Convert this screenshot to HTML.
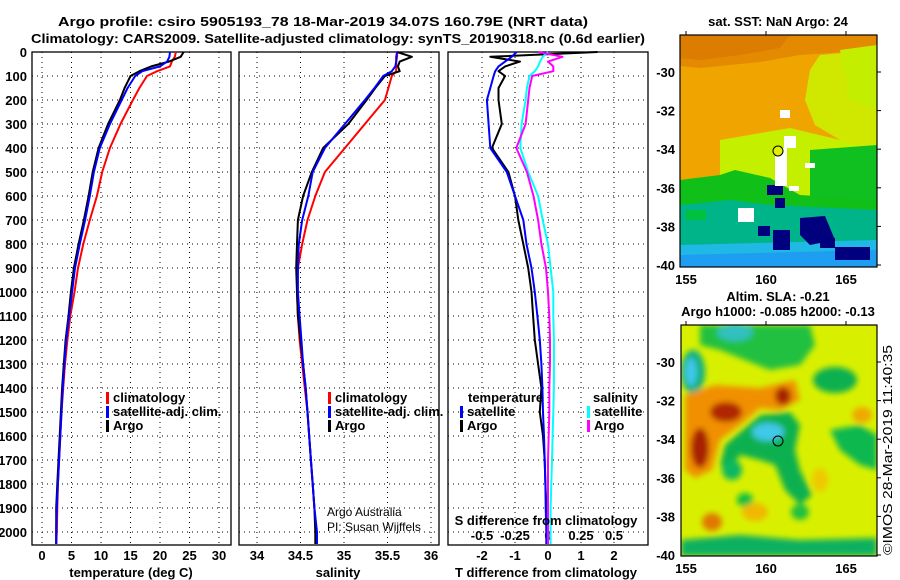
<!DOCTYPE html>
<html><head><meta charset="utf-8">
<style>
html,body{margin:0;padding:0;background:#fff;}
svg{display:block;font-family:"Liberation Sans",Arial,sans-serif;}
.b{font-weight:bold;font-size:13px;}
</style></head>
<body>
<svg id="fig" width="900" height="580" viewBox="0 0 900 580" xmlns="http://www.w3.org/2000/svg">
<defs>
<filter id="blur" x="-30%" y="-30%" width="160%" height="160%"><feGaussianBlur stdDeviation="3"/></filter>
<clipPath id="clipTop"><rect x="680" y="35" width="197" height="232"/></clipPath>
<clipPath id="clipBot"><rect x="681" y="325" width="196" height="231"/></clipPath>
</defs>
<text class="b" x="58" y="26" font-size="14" textLength="530" lengthAdjust="spacingAndGlyphs">Argo profile: csiro 5905193_78 18-Mar-2019 34.07S 160.79E (NRT data)</text>
<text class="b" x="31" y="43" font-size="14" textLength="614" lengthAdjust="spacingAndGlyphs">Climatology: CARS2009. Satellite-adjusted climatology: synTS_20190318.nc (0.6d earlier)</text>

<!-- top map: satellite SST -->
<g clip-path="url(#clipTop)">
<rect x="680" y="35" width="197" height="232" fill="#f0a400"/>
<polygon points="680,35 877,35 877,50 800,55 760,62 700,68 680,66" fill="#e48a00"/>
<polygon points="680,35 790,35 780,48 740,55 700,60 680,58" fill="#dc7c00"/>
<polygon points="820,55 877,50 877,150 840,140 815,125 805,100 810,70" fill="#d0e800"/>
<polygon points="840,50 877,45 877,110 850,100" fill="#c4ee00"/>
<polygon points="720,140 790,128 840,140 877,150 877,200 800,195 760,178 720,175" fill="#c4f000"/>
<polygon points="810,150 877,145 877,205 810,205" fill="#10c020"/>
<polygon points="680,180 720,175 735,170 770,178 800,195 877,200 877,230 680,235" fill="#10c018"/>
<polygon points="680,205 730,200 770,205 877,210 877,245 680,245" fill="#00b48a"/>
<polygon points="680,245 877,240 877,267 680,267" fill="#20b8e4"/>
<polygon points="680,255 877,250 877,267 680,267" fill="#1e9ef0"/>
<rect x="686" y="210" width="20" height="10" fill="#00c040"/>
<rect x="767" y="185" width="16" height="10" fill="#00007e"/>
<rect x="775" y="198" width="10" height="10" fill="#00007e"/>
<rect x="758" y="226" width="12" height="10" fill="#00007e"/>
<rect x="773" y="230" width="17" height="20" fill="#00007e"/>
<polygon points="800,218 825,216 835,240 810,245 800,235" fill="#00007e"/>
<rect x="820" y="238" width="15" height="10" fill="#00007e"/>
<rect x="835" y="247" width="35" height="13" fill="#00007e"/>
<rect x="780" y="110" width="10" height="8" fill="#fff"/>
<rect x="784" y="136" width="12" height="12" fill="#fff"/>
<rect x="775" y="148" width="12" height="38" fill="#fff"/>
<rect x="738" y="208" width="16" height="14" fill="#fff"/>
<rect x="805" y="163" width="10" height="5" fill="#fff"/>
<rect x="789" y="186" width="10" height="5" fill="#fff"/>
</g>
<circle cx="778" cy="151" r="5" fill="#e0f000" stroke="#000" stroke-width="1"/>
<rect x="680" y="35" width="197" height="232" fill="none" stroke="#000" stroke-width="1.2"/>
<text class="b" x="778" y="26" text-anchor="middle">sat. SST: NaN Argo: 24</text>

<!-- bottom map: altimetry SLA -->
<g clip-path="url(#clipBot)">
<rect x="681" y="325" width="196" height="231" fill="#d8f000"/>
<g filter="url(#blur)">
<polygon points="700,325 810,325 815,345 800,365 770,370 745,360 720,350 700,345" fill="#20c040"/>
<ellipse cx="735" cy="332" rx="18" ry="9" fill="#30c0c0"/>
<ellipse cx="693" cy="372" rx="12" ry="22" fill="#10b080"/>
<ellipse cx="691" cy="372" rx="6" ry="14" fill="#40c8e8"/>
<polygon points="685,395 715,385 760,388 795,380 800,400 780,410 760,408 740,425 720,440 712,470 695,478 685,470" fill="#f09000"/>
<ellipse cx="726" cy="412" rx="16" ry="10" fill="#b02800"/>
<ellipse cx="700" cy="448" rx="9" ry="20" fill="#a82000"/>
<ellipse cx="783" cy="396" rx="8" ry="9" fill="#a82000"/>
<polygon points="740,432 760,415 790,412 800,425 795,450 800,470 812,495 800,505 785,490 775,465 760,460 740,455 730,470 720,465 725,445" fill="#10b050"/>
<ellipse cx="768" cy="432" rx="16" ry="9" fill="#40c8e8"/>
<ellipse cx="732" cy="470" rx="10" ry="10" fill="#10b860"/>
<ellipse cx="745" cy="500" rx="8" ry="7" fill="#10c040"/>
<ellipse cx="835" cy="380" rx="22" ry="13" fill="#10b050"/>
<polygon points="830,430 860,425 877,435 877,470 860,465 840,450" fill="#10b850"/>
<ellipse cx="800" cy="512" rx="9" ry="8" fill="#20c040"/>
<polygon points="681,540 740,535 800,540 877,538 877,556 681,556" fill="#10b060"/>
<ellipse cx="712" cy="522" rx="10" ry="9" fill="#e07800"/>
<ellipse cx="755" cy="512" rx="13" ry="9" fill="#f0b800"/>
<ellipse cx="862" cy="415" rx="10" ry="8" fill="#f0a800"/>
<ellipse cx="820" cy="480" rx="8" ry="12" fill="#f0c800"/>
</g>
</g>
<circle cx="778" cy="441" r="5" fill="none" stroke="#000" stroke-width="1"/>
<rect x="681" y="325" width="196" height="231" fill="none" stroke="#000" stroke-width="1.2"/>
<text class="b" x="778" y="301" text-anchor="middle">Altim. SLA: -0.21</text>
<text class="b" x="778" y="316" text-anchor="middle">Argo h1000: -0.085 h2000: -0.13</text>
<text x="0" y="0" font-size="13" transform="translate(892,555) rotate(-90)" textLength="210" lengthAdjust="spacingAndGlyphs">©IMOS 28-Mar-2019 11:40:35</text>
<g id="dyn"></g>
</svg>
<script>
const depths    = [0,20,40,60,80,100,150,200,300,400,500,600,700,800,900,1000,1100,1200,1300,1400,1500,1600,1700,1800,1900,2000,2050];
const tClim     = [22.7,22.5,22,21.7,19.5,17.8,16.5,15.4,13.3,11.5,10.2,9.3,8.1,7.0,6.1,5.5,4.8,4.3,3.9,3.6,3.3,3.1,2.9,2.7,2.6,2.5,2.4];
const tSat      = [21.7,21.6,21.2,20,17,15.8,14.5,13.5,11.5,9.8,8.8,8.1,7.3,6.4,5.6,5.1,4.6,4.1,3.8,3.5,3.3,3.1,2.9,2.7,2.5,2.4,2.4];
const tArgo     = [24,23.5,21.5,18.5,16.5,15,14,13.2,11.2,9.6,8.6,7.9,7.1,6.2,5.4,4.9,4.5,4.0,3.7,3.4,3.2,3.0,2.8,2.6,2.4,2.4,2.4];
const sClim     = [35.61,35.61,35.6,35.6,35.6,35.55,35.51,35.47,35.24,35.01,34.78,34.67,34.58,34.52,34.47,34.46,34.47,34.49,34.52,34.55,34.58,34.6,34.62,34.64,34.66,34.68,34.68];
const sSat      = [35.61,35.6,35.6,35.59,35.55,35.45,35.35,35.24,35.01,34.78,34.64,34.59,34.52,34.48,34.47,34.47,34.49,34.51,34.53,34.56,34.58,34.6,34.62,34.64,34.66,34.69,34.69];
const sArgo     = [35.61,35.78,35.64,35.62,35.64,35.47,35.36,35.26,35.05,34.76,34.63,34.53,34.47,34.46,34.45,34.46,34.47,34.5,34.53,34.56,34.58,34.6,34.62,34.64,34.66,34.67,34.67];
const tDiffSat  = [-0.95,-1.1,-1.3,-1.5,-1.6,-1.65,-1.75,-1.85,-1.8,-1.75,-1.25,-1.0,-0.75,-0.65,-0.5,-0.4,-0.32,-0.25,-0.2,-0.17,-0.15,-0.12,-0.1,-0.08,-0.07,-0.05,-0.05];
const tDiffArgo = [1.5,-1.75,-0.85,-1.3,-1.5,-1.3,-1.5,-1.5,-1.4,-1.7,-1.2,-1.0,-0.9,-0.75,-0.6,-0.5,-0.45,-0.4,-0.3,-0.2,-0.25,-0.15,-0.1,-0.08,-0.05,-0.05,-0.05];
const sDiffSat  = [0,-0.04,-0.06,-0.075,-0.1,-0.14,-0.16,-0.17,-0.2,-0.21,-0.15,-0.075,-0.04,0,0.02,0.04,0.04,0.045,0.045,0.045,0.04,0.035,0.03,0.025,0.02,0.02,0.02];
const sDiffArgo = [-0.075,0.11,0,0.04,0.04,-0.12,-0.14,-0.15,-0.17,-0.24,-0.16,-0.11,-0.075,-0.05,-0.015,0,0.01,0.015,0.015,0.01,0.01,0.005,0,0,0,0,0];
const depthTicks = [0,100,200,300,400,500,600,700,800,900,1000,1100,1200,1300,1400,1500,1600,1700,1800,1900,2000];
const tTicks = [0,5,10,15,20,25,30];
const sTicks = [34,34.5,35,35.5,36];
const dTicks = [-2,-1,0,1,2];
const sdTickLabels = ["-0.5","-0.25","0","0.25","0.5"];
const sdTicks = [-0.5,-0.25,0,0.25,0.5];

const NS="http://www.w3.org/2000/svg";
const root=document.getElementById('dyn');
function mk(tag,attrs,parent){const e=document.createElementNS(NS,tag);for(const k in attrs)e.setAttribute(k,attrs[k]);(parent||root).appendChild(e);return e;}
const TOP=52, BOT=545;
const yD=d=>TOP+d*0.24;
const xT=v=>42+v*5.9;
const xS=v=>257+(v-34)*87;
const xDT=v=>548+v*33;
const xDS=v=>548+v*132;
const panels=[{x0:32,x1:231,name:'temperature'},{x0:239,x1:439,name:'salinity'},{x0:448,x1:648,name:'difference'}];
const vgrid=[tTicks.map(xT),sTicks.map(xS),dTicks.map(xDT)];

panels.forEach((p,i)=>{
  const g=mk('g',{});
  
  
  depthTicks.forEach(d=>{
    const l=mk('line',{x1:p.x0,x2:p.x1,y1:yD(d),y2:yD(d),stroke:'#000','stroke-width':1,'stroke-dasharray':'1,4'},g);
    
    
  });
  vgrid[i].forEach(x=>{
    const l=mk('line',{x1:x,x2:x,y1:TOP,y2:BOT,stroke:'#000','stroke-width':1,'stroke-dasharray':'1,4'},g);
    
    
  });
  const r=mk('rect',{x:p.x0,y:TOP,width:p.x1-p.x0,height:BOT-TOP,fill:'none',stroke:'#000','stroke-width':1.3},g);
  
  
});

depthTicks.forEach(d=>{
  const t=mk('text',{x:27,y:yD(d)+5,'text-anchor':'end',class:'b','font-size':'12.5'});
  
  
  t.textContent=d;
});
tTicks.forEach(v=>{
  const t=mk('text',{x:xT(v),y:560,'text-anchor':'middle',class:'b'});
  
  
  t.textContent=v;
});
sTicks.forEach(v=>{
  const t=mk('text',{x:xS(v),y:560,'text-anchor':'middle',class:'b'});
  
  
  t.textContent=v;
});
dTicks.forEach(v=>{
  const t=mk('text',{x:xDT(v),y:560,'text-anchor':'middle',class:'b'});
  
  
  t.textContent=v;
});
sdTicks.forEach((v,i)=>{
  const t=mk('text',{x:xDS(v),y:540,'text-anchor':'middle',class:'b'});
  
  
  t.textContent=sdTickLabels[i];
});

function series(vals,xf,color,name){
  const pts=vals.map((v,i)=>xf(v).toFixed(1)+','+yD(depths[i]).toFixed(1)).join(' ');
  const pl=mk('polyline',{points:pts,fill:'none',stroke:color,'stroke-width':2,'stroke-linejoin':'round'});
  
  
}
series(tClim,xT,'#ff0000','temperature-climatology-line');
series(tArgo,xT,'#000000','temperature-argo-line');
series(tSat,xT,'#0000ff','temperature-satellite-line');
series(sClim,xS,'#ff0000','salinity-climatology-line');
series(sArgo,xS,'#000000','salinity-argo-line');
series(sSat,xS,'#0000ff','salinity-satellite-line');
series(tDiffArgo,xDT,'#000000','t-difference-argo-line');
series(tDiffSat,xDT,'#0000ff','t-difference-satellite-line');
series(sDiffSat,xDS,'#00ffff','s-difference-satellite-line');
series(sDiffArgo,xDS,'#ff00ff','s-difference-argo-line');

function legend(x,y,color,label,name){
  const r=mk('rect',{x:x,y:y-10,width:3,height:12,fill:color});
  
  
  const t=mk('text',{x:x+7,y:y,class:'b'});
  
  
  t.textContent=label;
}
legend(106,402,'#ff0000','climatology','legend-climatology');
legend(106,416,'#0000ff','satellite-adj. clim.','legend-satellite');
legend(106,430,'#000000','Argo','legend-argo');
legend(328,402,'#ff0000','climatology','legend2-climatology');
legend(328,416,'#0000ff','satellite-adj. clim.','legend2-satellite');
legend(328,430,'#000000','Argo','legend2-argo');
legend(460,416,'#0000ff','satellite','legend3-t-satellite');
legend(460,430,'#000000','Argo','legend3-t-argo');
legend(587,416,'#00ffff','satellite','legend3-s-satellite');
legend(587,430,'#ff00ff','Argo','legend3-s-argo');

const extras=[
 {x:468,y:402,s:'temperature',n:'legend-temperature-heading',c:'b',a:'start'},
 {x:593,y:402,s:'salinity',n:'legend-salinity-heading',c:'b',a:'start'},
 {x:546,y:525,s:'S difference from climatology',n:'s-difference-axis-title',c:'b',a:'middle'},
 {x:131,y:577,s:'temperature (deg C)',n:'temperature-axis-title',c:'b',a:'middle'},
 {x:338,y:577,s:'salinity',n:'salinity-axis-title',c:'b',a:'middle'},
 {x:546,y:577,s:'T difference from climatology',n:'t-difference-axis-title',c:'b',a:'middle'}
];
extras.forEach(e=>{
  const t=mk('text',{x:e.x,y:e.y,class:e.c,'text-anchor':e.a});
  
  
  t.textContent=e.s;
});
const c1=mk('text',{x:327,y:516,'font-size':12});


c1.textContent='Argo Australia';
const c2=mk('text',{x:327,y:531,'font-size':12});


c2.textContent='PI: Susan Wijffels';

const lons=[155,160,165];
const latsTop=[-30,-32,-34,-36,-38,-40];
const lonX=v=>686+(v-155)*16;
const latYTop=v=>72+(-30-v)*19.3;
const latYBot=v=>362+(-30-v)*19.3;
lons.forEach(v=>{
  [[35,284],[325,573]].forEach(([fy,ly])=>{
    const tk=mk('line',{x1:lonX(v),x2:lonX(v),y1:fy-4,y2:fy,stroke:'#000'});
    
    
    const t=mk('text',{x:lonX(v),y:ly,'text-anchor':'middle',class:'b'});
    
    
    t.textContent=v;
  });
});
latsTop.forEach(v=>{
  [latYTop(v),latYBot(v)].forEach(y=>{
    const tk=mk('line',{x1:877,x2:881,y1:y,y2:y,stroke:'#000'});
    
    
    const t=mk('text',{x:675,y:y+5,'text-anchor':'end',class:'b'});
    
    
    t.textContent=v;
  });
});
</script>
</body></html>
